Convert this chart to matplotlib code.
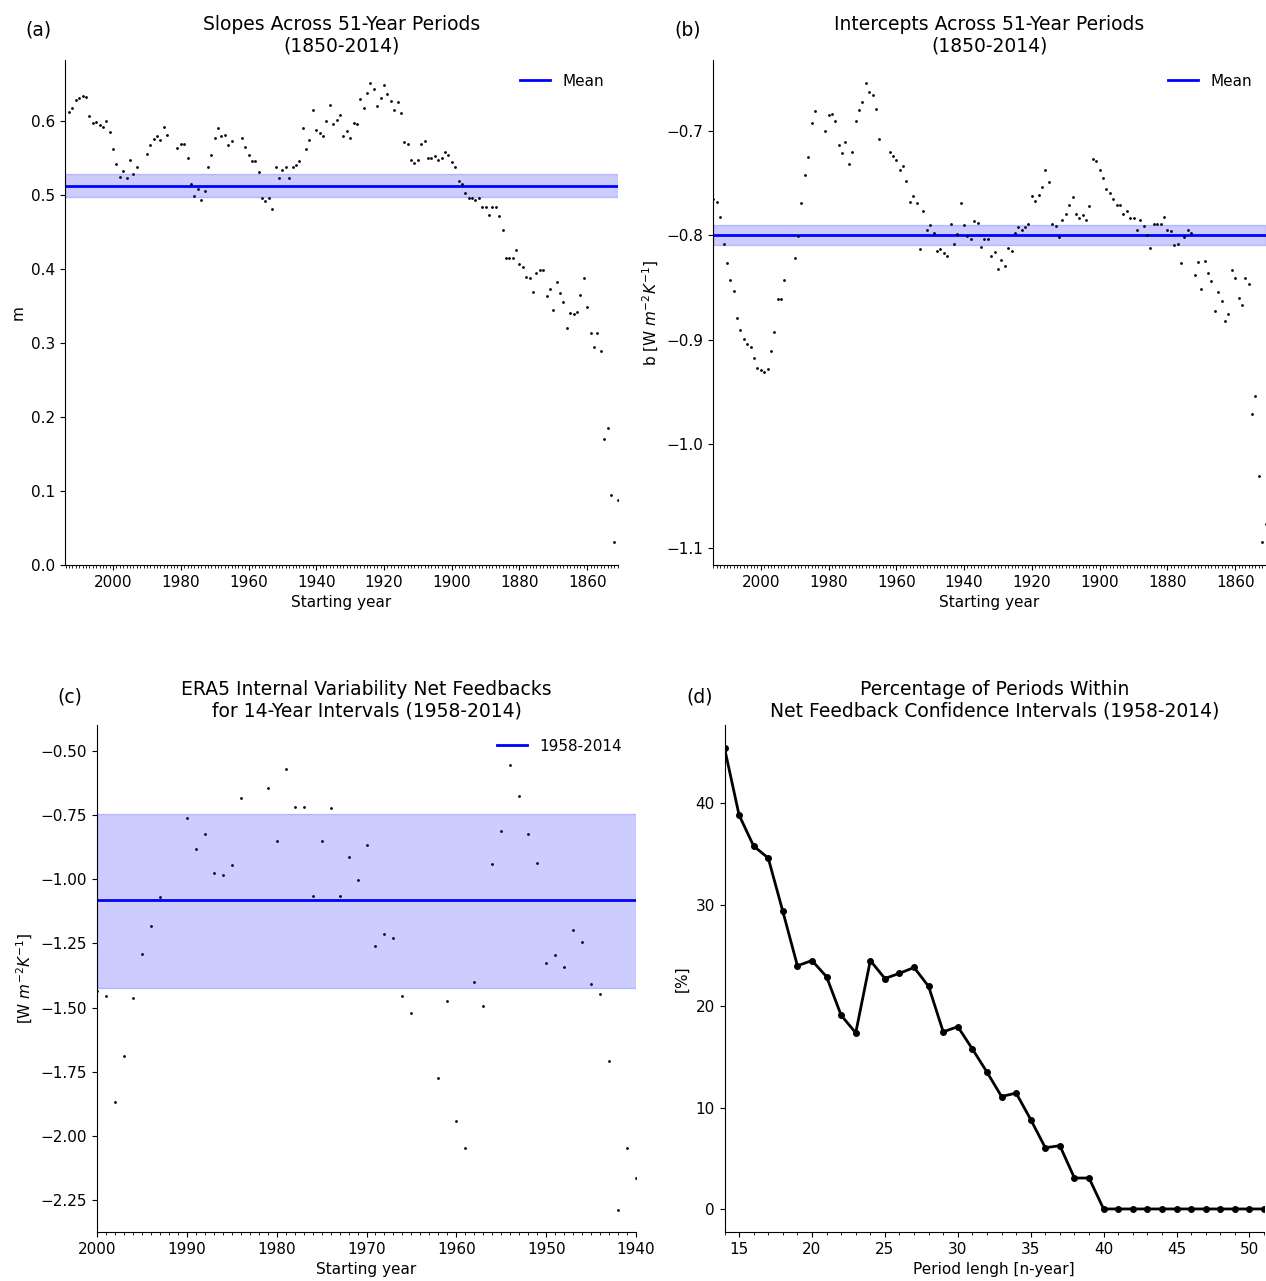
import numpy as np
import matplotlib
matplotlib.use("Agg")
import matplotlib.pyplot as plt
from matplotlib.ticker import MultipleLocator

nan = np.nan

# ---------------- data ----------------
# Panel (a): slopes, starting years 2013 -> 1851 (NaN = excluded years)
years_a = list(range(2013, 1850, -1))
slopes = [0.612, 0.617, 0.628, 0.631, 0.634, 0.632, 0.607, 0.597, 0.598, 0.594,
          0.591, 0.599, 0.585, 0.562, 0.541, 0.524, 0.532, 0.523, 0.547, 0.528,
          0.538, nan, nan, 0.555, 0.567, 0.575, 0.579, 0.574, 0.591, 0.581,
          nan, nan, 0.563, 0.568, 0.569, 0.550, 0.514, 0.498, 0.508, 0.493,
          0.505, 0.538, 0.554, 0.577, 0.590, 0.580, 0.581, 0.567, 0.573, nan,
          nan, 0.577, 0.564, 0.554, 0.546, 0.546, 0.531, 0.496, 0.492, 0.495,
          0.481, 0.538, 0.522, 0.534, 0.538, 0.523, 0.538, 0.540, 0.545, 0.590,
          0.562, 0.574, 0.615, 0.588, 0.583, 0.579, 0.599, 0.621, 0.595, 0.601,
          0.608, 0.580, 0.586, 0.576, 0.597, 0.595, 0.629, 0.617, 0.637, 0.651,
          0.643, 0.620, 0.631, 0.648, 0.636, 0.627, 0.615, 0.625, 0.611, 0.571,
          0.568, 0.547, 0.543, 0.547, 0.568, 0.572, 0.550, 0.550, 0.552, 0.547,
          0.550, 0.558, 0.554, 0.544, 0.538, 0.518, 0.514, 0.503, 0.496, 0.495,
          0.493, 0.496, 0.483, 0.483, 0.472, 0.483, 0.483, 0.471, 0.453, 0.414,
          0.414, 0.414, 0.425, 0.407, 0.403, 0.389, 0.388, 0.369, 0.394, 0.399,
          0.399, 0.363, 0.373, 0.344, 0.382, 0.367, 0.355, 0.320, 0.340, 0.339,
          0.342, 0.365, 0.387, 0.349, 0.313, 0.295, 0.313, 0.289, 0.170, 0.185,
          0.095, 0.031, 0.088]
slope_mean = 0.512
slope_ci = [0.4965, 0.5275]

# Panel (b): intercepts, starting years 2014 -> 1851
years_b = list(range(2014, 1850, -1))
intercepts = [-0.765, -0.768, -0.782, -0.808, -0.827, -0.843, -0.853, -0.879, -0.891, -0.899,
              -0.904, -0.907, -0.918, -0.927, -0.929, -0.931, -0.928, -0.911, -0.893, -0.861,
              -0.861, -0.843, nan, nan, -0.822, -0.801, -0.769, -0.742, -0.725, -0.692,
              -0.681, nan, nan, -0.700, -0.685, -0.684, -0.690, -0.713, -0.721, -0.711,
              -0.732, -0.720, -0.690, -0.680, -0.672, -0.654, -0.663, -0.666, -0.679, -0.708,
              nan, nan, -0.720, -0.724, -0.728, -0.737, -0.734, -0.748, -0.768, -0.762,
              -0.769, -0.813, -0.777, -0.795, -0.790, -0.798, -0.815, -0.813, -0.817, -0.820,
              -0.789, -0.808, -0.799, -0.769, -0.790, -0.801, -0.804, -0.786, -0.788, -0.811,
              -0.804, -0.804, -0.820, -0.816, -0.832, -0.824, -0.829, -0.812, -0.815, -0.798,
              -0.792, -0.795, -0.792, -0.789, -0.762, -0.767, -0.761, -0.754, -0.737, -0.749,
              -0.789, -0.791, -0.802, -0.785, -0.780, -0.771, -0.763, -0.780, -0.783, -0.781,
              -0.785, -0.772, -0.727, -0.729, -0.737, -0.745, -0.756, -0.759, -0.765, -0.771,
              -0.771, -0.780, -0.777, -0.783, -0.783, -0.795, -0.785, -0.791, -0.800, -0.812,
              -0.789, -0.789, -0.789, -0.782, -0.795, -0.796, -0.809, -0.808, -0.827, -0.802,
              -0.795, -0.798, -0.838, -0.826, -0.851, -0.825, -0.836, -0.844, -0.873, -0.854,
              -0.863, -0.882, -0.875, -0.833, -0.841, -0.860, -0.867, -0.841, -0.847, -0.971,
              -0.954, -1.031, -1.094, -1.077]
intercept_mean = -0.7995
intercept_ci = [-0.809, -0.790]

# Panel (c): ERA5 14-year net feedbacks, starting years 2000 -> 1940
years_c = list(range(2000, 1939, -1))
feedbacks = [-1.437, -1.454, -1.868, -1.689, -1.463, -1.292, -1.184, -1.068, nan, nan,
             -0.762, -0.884, -0.825, -0.978, -0.983, -0.945, -0.684, nan, nan, -0.645,
             -0.850, -0.571, -0.721, -0.718, -1.066, -0.853, -0.725, -1.066, -0.912, -1.004,
             -0.868, -1.261, -1.212, -1.230, -1.454, -1.521, nan, nan, -1.775, -1.474,
             -1.941, -2.045, -1.400, -1.496, -0.942, -0.812, -0.555, -0.676, -0.825, -0.938,
             -1.325, -1.296, -1.341, -1.199, -1.245, -1.409, -1.449, -1.707, -2.288, -2.045,
             -2.163]
era5_mean = -1.083
era5_ci = [-1.424, -0.745]

# Panel (d): percentage of periods within CI vs period length
period_len = list(range(14, 52))
pct_within = [45.46, 38.85, 35.79, 34.61, 29.35, 23.99, 24.50, 22.90, 19.10, 17.37,
              24.50, 22.73, 23.24, 23.82, 21.95, 17.47, 17.98, 15.78, 13.50, 11.09,
              11.43, 8.82, 6.04, 6.24, 3.05, 3.05,
              0, 0, 0, 0, 0, 0, 0, 0, 0, 0, 0, 0]

# ---------------- figure ----------------
W, H = 1266, 1281
fig = plt.figure(figsize=(W / 100, H / 100), dpi=100)

def box(l, t, r, b):
    return [l / W, 1 - b / H, (r - l) / W, (b - t) / H]

axa = fig.add_axes(box(65, 60, 618, 565))
axb = fig.add_axes(box(713, 60, 1266, 565))
axc = fig.add_axes(box(97, 725, 636, 1232))
axd = fig.add_axes(box(724.5, 725, 1264, 1232))

TITLE_FS = 13.5
LABEL_FS = 11
TICK_FS = 11

for ax in (axa, axb, axc, axd):
    ax.spines['top'].set_visible(False)
    ax.spines['right'].set_visible(False)
    ax.tick_params(labelsize=TICK_FS)


def scatter_panel(ax, xs, ys, mean, ci, label):
    ax.axhspan(ci[0], ci[1], color='blue', alpha=0.2, lw=1)
    ax.axhline(mean, color='blue', lw=2, label=label)
    ax.plot(xs, ys, 'o', color='black', ms=2.0, mew=0, zorder=3)
    ax.legend(loc='upper right', frameon=False, fontsize=LABEL_FS)


scatter_panel(axa, years_a, slopes, slope_mean, slope_ci, 'Mean')
axa.set_xlim(2014.2, 1850.9)
axa.xaxis.set_major_locator(MultipleLocator(20))
axa.xaxis.set_minor_locator(MultipleLocator(1))
axa.yaxis.set_major_locator(MultipleLocator(0.1))
axa.set_title('Slopes Across 51-Year Periods\n(1850-2014)', fontsize=TITLE_FS)
axa.set_xlabel('Starting year', fontsize=LABEL_FS)
axa.set_ylabel('m', fontsize=LABEL_FS)

scatter_panel(axb, years_b, intercepts, intercept_mean, intercept_ci, 'Mean')
axb.set_xlim(2014.1, 1850.9)
axb.xaxis.set_major_locator(MultipleLocator(20))
axb.xaxis.set_minor_locator(MultipleLocator(1))
axb.yaxis.set_major_locator(MultipleLocator(0.1))
axb.set_title('Intercepts Across 51-Year Periods\n(1850-2014)', fontsize=TITLE_FS)
axb.set_xlabel('Starting year', fontsize=LABEL_FS)
axb.set_ylabel('b [W $m^{-2}K^{-1}$]', fontsize=LABEL_FS)

scatter_panel(axc, years_c, feedbacks, era5_mean, era5_ci, '1958-2014')
axc.set_xlim(2000, 1940)
axc.set_ylim(-2.374, -0.40)
axc.xaxis.set_major_locator(MultipleLocator(10))
axc.xaxis.set_minor_locator(MultipleLocator(1))
axc.yaxis.set_major_locator(MultipleLocator(0.25))
axc.set_title('ERA5 Internal Variability Net Feedbacks\nfor 14-Year Intervals (1958-2014)',
              fontsize=TITLE_FS)
axc.set_xlabel('Starting year', fontsize=LABEL_FS)
axc.set_ylabel('[W $m^{-2}K^{-1}$]', fontsize=LABEL_FS)

axd.plot(period_len, pct_within, '-o', color='black', lw=2, ms=4)
axd.set_xlim(14, 51)
axd.xaxis.set_major_locator(MultipleLocator(5))
axd.xaxis.set_minor_locator(MultipleLocator(1))
axd.yaxis.set_major_locator(MultipleLocator(10))
axd.set_title('Percentage of Periods Within\nNet Feedback Confidence Intervals (1958-2014)',
              fontsize=TITLE_FS)
axd.set_xlabel('Period lengh [n-year]', fontsize=LABEL_FS)
axd.set_ylabel('[%]', fontsize=LABEL_FS)

for txt, x, y in [('(a)', 38, 30), ('(b)', 688, 30), ('(c)', 70, 697), ('(d)', 700, 697)]:
    fig.text(x / W, 1 - y / H, txt, ha='center', va='center', fontsize=TITLE_FS)

fig.savefig('out.png', dpi=100)
